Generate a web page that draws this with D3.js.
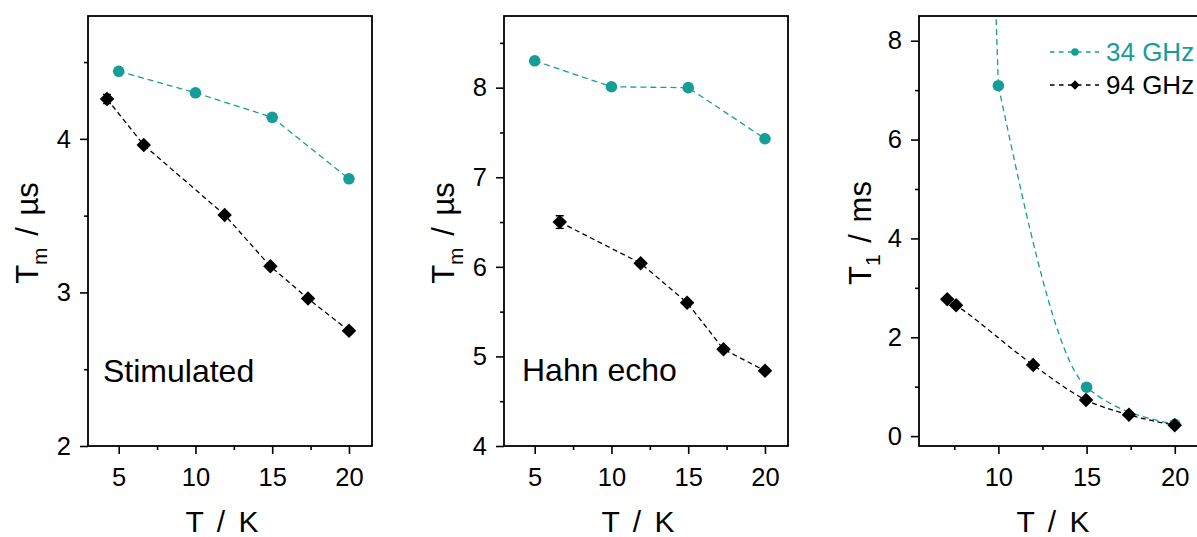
<!DOCTYPE html>
<html><head><meta charset="utf-8">
<script src="https://cdn.jsdelivr.net/npm/d3@7"></script>
<style>
body{margin:0;background:#fff}
svg{display:block}
text{font-family:"Liberation Sans",Arial,sans-serif;fill:#000}
</style>
</head><body>
<svg id="chart" width="1197" height="537"></svg>
<script>
// ---------------- data ----------------
const xTickLabels = [5, 10, 15, 20];
const xMinorTicks = [7.5, 12.5, 17.5];

// Panel 1: stimulated echo, Tm / µs
const stimTemp34 = [5, 10, 15, 20];
const stimTm34   = [4.44, 4.30, 4.14, 3.74];
const stimErr34  = [0.01, 0.01, 0.01, 0.01];
const stimTemp94 = [4.24, 6.63, 11.9, 14.88, 17.33, 20];
const stimTm94   = [4.26, 3.96, 3.505, 3.17, 2.96, 2.75];
const stimErr94  = [0.03, 0.01, 0.01, 0.01, 0.01, 0.01];
const stimYTicks = [2, 3, 4];
const stimYMinor = [2.5, 3.5, 4.5];

// Panel 2: Hahn echo, Tm / µs
const hahnTemp34 = [5, 10, 15, 20];
const hahnTm34   = [8.30, 8.01, 8.00, 7.43];
const hahnErr34  = [0.03, 0.03, 0.02, 0.02];
const hahnTemp94 = [6.63, 11.9, 14.93, 17.3, 20];
const hahnTm94   = [6.50, 6.04, 5.60, 5.08, 4.84];
const hahnErr94  = [0.07, 0.03, 0.02, 0.02, 0.01];
const hahnYTicks = [4, 5, 6, 7, 8];
const hahnYMinor = [4.5, 5.5, 6.5, 7.5, 8.5];

// Panel 3: T1 / ms (the 5 K value at 34 GHz lies far above the plotted range)
const t1Temp34 = [5, 10, 15, 20];
const t1Val34  = [60, 7.09, 0.99, 0.24];
const t1Err34  = [0, 0.02, 0.02, 0.01];
const t1Temp94 = [7.1, 7.6, 11.97, 14.97, 17.4, 20];
const t1Val94  = [2.77, 2.65, 1.44, 0.73, 0.43, 0.22];
const t1Err94  = [0.02, 0.02, 0.02, 0.01, 0.01, 0.01];
const t1YTicks = [0, 2, 4, 6, 8];
const t1YMinor = [1, 3, 5, 7];

const legendLabels = ["34 GHz", "94 GHz"];
const panelNotes = ["Stimulated", "Hahn echo", ""];

// ---------------- drawing ----------------
const svg = d3.select("#chart");
const TEAL = "#169d98";
const TOP = 16, BOTTOM = 446;
const FONT = '"Liberation Sans", Arial, sans-serif';

const styles = {
  s34: {color: TEAL, dash: "6,4", marker: "circle"},
  s94: {color: "#000", dash: "5,3.5", marker: "diamond"}
};

function series(temps, vals, errs, style) {
  return {pts: temps.map((t, i) => ({t, v: vals[i], e: errs[i]})), style};
}

const panels = [
  {id: 0, left: 88, right: 372, xDomain: [3, 21.5], yDomain: [2, 4.8], curve: d3.curveLinear,
   yTicks: stimYTicks, yMinor: stimYMinor, yLabelMain: "T", yLabelSub: "m", yLabelRest: " / µs", yTitleX: 38,
   note: panelNotes[0], noteX: 103, noteY: 382,
   series: [series(stimTemp34, stimTm34, stimErr34, styles.s34), series(stimTemp94, stimTm94, stimErr94, styles.s94)]},
  {id: 1, left: 504, right: 788, xDomain: [3, 21.5], yDomain: [4, 8.8], curve: d3.curveLinear,
   yTicks: hahnYTicks, yMinor: hahnYMinor, yLabelMain: "T", yLabelSub: "m", yLabelRest: " / µs", yTitleX: 454,
   note: panelNotes[1], noteX: 522, noteY: 381,
   series: [series(hahnTemp34, hahnTm34, hahnErr34, styles.s34), series(hahnTemp94, hahnTm94, hahnErr94, styles.s94)]},
  {id: 2, left: 919, right: 1203, xDomain: [5.5, 21.6], yDomain: [-0.2, 8.5], curve: d3.curveMonotoneX,
   yTicks: t1YTicks, yMinor: t1YMinor, yLabelMain: "T", yLabelSub: "1", yLabelRest: " / ms", yTitleX: 871,
   note: panelNotes[2], noteX: 0, noteY: 0, legend: true,
   series: [series(t1Temp34, t1Val34, t1Err34, styles.s34), series(t1Temp94, t1Val94, t1Err94, styles.s94)]}
];

function diamondPath(cx, cy, r) {
  return `M${cx},${cy - r}L${cx + r},${cy}L${cx},${cy + r}L${cx - r},${cy}Z`;
}

function drawMarker(g, type, cx, cy, color, size) {
  if (type === "circle") {
    g.append("circle").attr("cx", cx).attr("cy", cy).attr("r", size).attr("fill", color);
  } else {
    g.append("path").attr("d", diamondPath(cx, cy, size * 1.25)).attr("fill", color);
  }
}

panels.forEach(p => {
  const g = svg.append("g");
  const x = d3.scaleLinear().domain(p.xDomain).range([p.left, p.right]);
  const y = d3.scaleLinear().domain(p.yDomain).range([BOTTOM, TOP]);

  const clipId = "clip" + p.id;
  svg.append("clipPath").attr("id", clipId).append("rect")
    .attr("x", p.left).attr("y", TOP).attr("width", p.right - p.left).attr("height", BOTTOM - TOP);

  // x axis (major + minor)
  const xMajor = xTickLabels.filter(v => v >= p.xDomain[0] && v <= p.xDomain[1]);
  g.append("g").attr("transform", `translate(0,${BOTTOM})`)
    .call(d3.axisBottom(x).tickValues(xMajor).tickSize(8).tickPadding(14).tickFormat(d3.format("d")));
  g.append("g").attr("transform", `translate(0,${BOTTOM})`)
    .call(d3.axisBottom(x).tickValues(xMinorTicks).tickSize(4).tickFormat(""));
  // y axis
  g.append("g").attr("transform", `translate(${p.left},0)`)
    .call(d3.axisLeft(y).tickValues(p.yTicks).tickSize(8).tickPadding(9).tickFormat(d3.format("d")));
  g.append("g").attr("transform", `translate(${p.left},0)`)
    .call(d3.axisLeft(y).tickValues(p.yMinor).tickSize(4).tickFormat(""));

  g.selectAll(".domain").remove();
  g.selectAll(".tick line").attr("stroke", "#000").attr("stroke-width", 1.6);
  g.selectAll(".tick text").attr("font-size", 25.5).attr("fill", "#000").style("font-family", FONT);

  // frame
  g.append("rect").attr("x", p.left).attr("y", TOP)
    .attr("width", p.right - p.left).attr("height", BOTTOM - TOP)
    .attr("fill", "none").attr("stroke", "#000").attr("stroke-width", 1.8);

  // x title
  g.append("text").attr("x", (p.left + p.right) / 2 - 8).attr("y", 532)
    .attr("text-anchor", "middle").attr("font-size", 30).style("word-spacing", "5px")
    .text("T / K");

  // y title
  const yt = g.append("text")
    .attr("transform", `translate(${p.yTitleX},${(TOP + BOTTOM) / 2 + 2}) rotate(-90)`)
    .attr("text-anchor", "middle").attr("font-size", 31).style("word-spacing", "3px");
  yt.append("tspan").text(p.yLabelMain);
  yt.append("tspan").attr("font-size", 21).attr("dy", 9).text(p.yLabelSub);
  yt.append("tspan").attr("dy", -9).text(p.yLabelRest);

  // data
  const dg = g.append("g").attr("clip-path", `url(#${clipId})`);
  p.series.forEach(s => {
    const st = s.style;
    const above = s.pts.filter(d => d.v > p.yDomain[1]);
    const inside = s.pts.filter(d => d.v <= p.yDomain[1]);
    if (above.length && inside.length) {
      const link = [above[above.length - 1], inside[0]];
      dg.append("path").datum(link)
        .attr("d", d3.line().x(d => x(d.t)).y(d => y(d.v)))
        .attr("fill", "none").attr("stroke", st.color).attr("stroke-width", 1.3)
        .attr("stroke-dasharray", st.dash);
    }
    dg.append("path").datum(inside)
      .attr("d", d3.line().x(d => x(d.t)).y(d => y(d.v)).curve(p.curve))
      .attr("fill", "none").attr("stroke", st.color).attr("stroke-width", 1.3)
      .attr("stroke-dasharray", st.dash);
    inside.forEach(d => {
      if (d.e > 0) {
        const y1 = y(d.v + d.e), y2 = y(d.v - d.e), cx = x(d.t);
        dg.append("path")
          .attr("d", `M${cx},${y1}V${y2}M${cx - 4},${y1}H${cx + 4}M${cx - 4},${y2}H${cx + 4}`)
          .attr("stroke", st.color).attr("stroke-width", 1.3).attr("fill", "none");
      }
      drawMarker(dg, st.marker, x(d.t), y(d.v), st.color, 5.8);
    });
  });

  // note
  if (p.note) {
    g.append("text").attr("x", p.noteX).attr("y", p.noteY).attr("font-size", 32).text(p.note);
  }

  // legend
  if (p.legend) {
    const lg = g.append("g");
    p.series.forEach((s, i) => {
      const ly = 52 + i * 33;
      lg.append("line").attr("x1", 1050).attr("x2", 1099).attr("y1", ly).attr("y2", ly)
        .attr("stroke", s.style.color).attr("stroke-width", 1.3).attr("stroke-dasharray", "4.5,4.5");
      drawMarker(lg, s.style.marker, 1075, ly, s.style.color, 3.8);
      lg.append("text").attr("x", 1106).attr("y", ly + 9).attr("font-size", 26)
        .style("fill", s.style.color).text(legendLabels[i]);
    });
  }
});
</script>
</body></html>
